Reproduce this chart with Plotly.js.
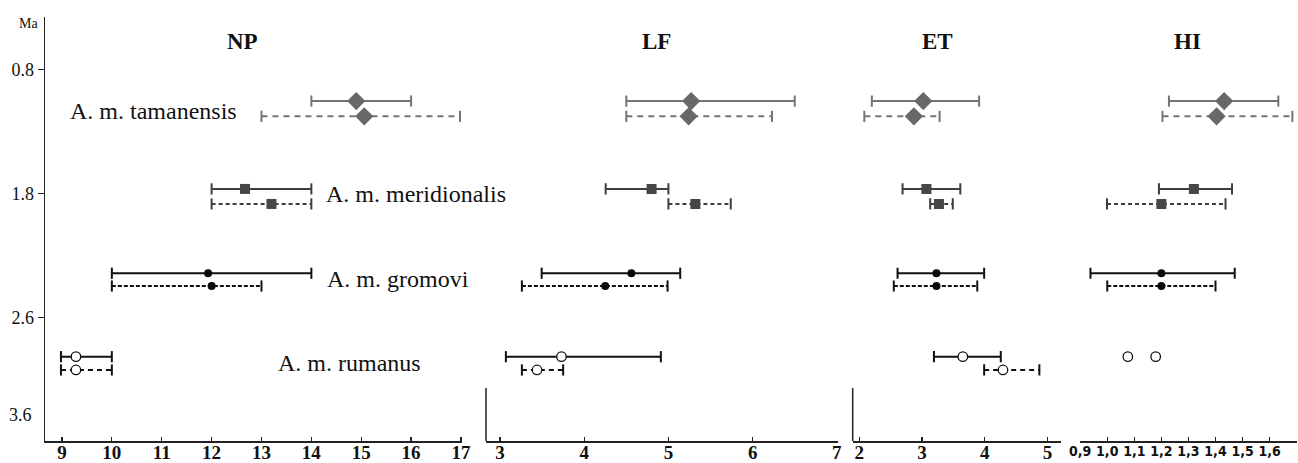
<!DOCTYPE html>
<html>
<head>
<meta charset="utf-8">
<script src="https://cdn.plot.ly/plotly-3.0.1.min.js"></script>
<style>html,body{margin:0;padding:0;background:#fff;}#chart{width:1298px;height:463px;}</style>
</head>
<body>
<div id="chart"></div>
<script>
// ---------- data ----------
const species = ['A. m. tamanensis', 'A. m. meridionalis', 'A. m. gromovi', 'A. m. rumanus'];
const panels = ['NP', 'LF', 'ET', 'HI'];
const maTickLabels = ['0.8', '1.8', '2.6', '3.6'];

// NP
const npSolidMean = [14.9, 12.67, 11.93, 9.28];
const npSolidLow  = [14.0, 12.0, 10.0, 8.98];
const npSolidHigh = [16.0, 14.0, 14.0, 10.0];
const npDashMean  = [15.06, 13.2, 12.0, 9.28];
const npDashLow   = [13.0, 12.0, 10.0, 8.98];
const npDashHigh  = [16.98, 14.0, 13.0, 10.0];
// LF
const lfSolidMean = [5.27, 4.80, 4.56, 3.73];
const lfSolidLow  = [4.50, 4.255, 3.495, 3.07];
const lfSolidHigh = [6.50, 5.00, 5.14, 4.91];
const lfDashMean  = [5.24, 5.32, 4.25, 3.44];
const lfDashLow   = [4.50, 5.00, 3.26, 3.26];
const lfDashHigh  = [6.23, 5.74, 4.99, 3.75];
// ET
const etSolidMean = [3.02, 3.07, 3.23, 3.65];
const etSolidLow  = [2.20, 2.69, 2.61, 3.19];
const etSolidHigh = [3.91, 3.61, 3.99, 4.255];
const etDashMean  = [2.87, 3.27, 3.23, 4.29];
const etDashLow   = [2.08, 3.13, 2.55, 3.99];
const etDashHigh  = [3.28, 3.49, 3.88, 4.87];
// HI (rumanus: means only)
const hiSolidMean = [1.432, 1.32, 1.20, 1.076];
const hiSolidLow  = [1.228, 1.191, 0.938, null];
const hiSolidHigh = [1.632, 1.461, 1.471, null];
const hiDashMean  = [1.404, 1.20, 1.20, 1.179];
const hiDashLow   = [1.204, 0.999, 1.0, null];
const hiDashHigh  = [1.684, 1.437, 1.40, null];

const npTickVals = [9, 10, 11, 12, 13, 14, 15, 16, 17];
const lfTickVals = [3, 4, 5, 6, 7];
const etTickVals = [2, 3, 4, 5];
const hiTickVals = [0.9, 1.0, 1.1, 1.2, 1.3, 1.4, 1.5, 1.6, 1.7];
const hiTickText = ['0,9', '1,0', '1,1', '1,2', '1,3', '1,4', '1,5', '1,6', ''];

// ---------- layout geometry (pixels) ----------
const WIDTH = 1298, HEIGHT = 463;
const ML = 45, MR = 1, MT = 17, MB = 22;
const PW = WIDTH - ML - MR, PH = HEIGHT - MT - MB;
const fx = px => (px - ML) / PW;
const fy = py => 1 - (py - MT) / PH;

const domainsPx = [[45, 462], [486, 837.7], [852.7, 1060.7], [1080.2, 1296.7]];
const ranges = [[8.66, 17.02], [2.834, 7.01], [1.895, 5.21], [0.9, 1.7]];

// row positions on the (index-based) vertical axis: 0.8 Ma tick = 0, 1.8 = 1, 2.6 = 2
const rowSolid = [0.256, 0.965, 1.645, 2.318];
const rowDash  = [0.379, 1.086, 1.748, 2.425];
const yRange = [2.998, -0.4218];
const ma36Pos = 2.788;

// ---------- styles ----------
const lineColor   = ['#747474', '#3e3e3e', '#111111', '#111111'];
const markColor   = ['#686868', '#474747', '#0a0a0a', '#ffffff'];
const markSymbol  = ['diamond', 'square', 'circle', 'circle'];
const markSize    = [14, 10, 8, 9.5];
const dashStyle   = ['6px,5px', '4px,3px', '4px,2px', '5px,4px'];

const panelData = [
  [npSolidMean, npSolidLow, npSolidHigh, npDashMean, npDashLow, npDashHigh],
  [lfSolidMean, lfSolidLow, lfSolidHigh, lfDashMean, lfDashLow, lfDashHigh],
  [etSolidMean, etSolidLow, etSolidHigh, etDashMean, etDashLow, etDashHigh],
  [hiSolidMean, hiSolidLow, hiSolidHigh, hiDashMean, hiDashLow, hiDashHigh]
];

const traces = [];
panelData.forEach((pd, p) => {
  const xa = p === 0 ? 'x' : 'x' + (p + 1);
  const [sm, sl, sh, dm, dl, dh] = pd;
  species.forEach((sp, i) => {
    const variants = [
      {mean: sm[i], lo: sl[i], hi: sh[i], y: rowSolid[i], dash: 'solid'},
      {mean: dm[i], lo: dl[i], hi: dh[i], y: (dl[i] === null ? rowSolid[i] : rowDash[i]), dash: dashStyle[i]}
    ];
    variants.forEach(v => {
      if (v.lo !== null && v.hi !== null) {
        traces.push({
          type: 'scatter', mode: 'lines+markers', xaxis: xa, yaxis: 'y',
          x: [v.lo, v.hi], y: [v.y, v.y], hoverinfo: 'skip', showlegend: false,
          line: {color: lineColor[i], width: 2, dash: v.dash},
          marker: {symbol: 'line-ns-open', size: 8, line: {color: lineColor[i], width: 2}}
        });
      }
      traces.push({
        type: 'scatter', mode: 'markers', xaxis: xa, yaxis: 'y',
        x: [v.mean], y: [v.y], name: sp, showlegend: false,
        marker: {symbol: markSymbol[i], size: markSize[i], color: markColor[i],
                 line: {color: i === 3 ? '#111' : markColor[i], width: i === 3 ? 1.3 : 0}}
      });
    });
  });
});

const serif = 'Liberation Serif, Times New Roman, serif';
const tickFontBold = {family: serif, size: 19, color: '#111', weight: 'bold'};
const layout = {
  width: WIDTH, height: HEIGHT,
  margin: {l: ML, r: MR, t: MT, b: MB, pad: 0},
  paper_bgcolor: '#fff', plot_bgcolor: 'rgba(0,0,0,0)',
  showlegend: false,
  yaxis: {
    range: yRange, anchor: 'x', domain: [0, 1],
    tickvals: [0, 1, 2], ticktext: maTickLabels.slice(0, 3),
    ticks: 'outside', ticklen: 6, tickwidth: 1.3, tickcolor: '#222',
    showline: true, linecolor: '#222', linewidth: 1.5,
    showgrid: false, zeroline: false,
    tickfont: {family: serif, size: 18, color: '#111'}
  },
  annotations: [],
  shapes: []
};

const tickValsList = [npTickVals, lfTickVals, etTickVals, hiTickVals];
domainsPx.forEach((d, p) => {
  const key = p === 0 ? 'xaxis' : 'xaxis' + (p + 1);
  const ax = {
    domain: [fx(d[0]), fx(d[1])], range: ranges[p], anchor: 'y',
    showline: true, linecolor: '#222', linewidth: 1.5,
    ticks: 'inside', ticklen: 4, tickwidth: 1.3, tickcolor: '#222',
    showgrid: false, zeroline: false, tickfont: tickFontBold,
    tickvals: tickValsList[p], ticklabelstandoff: -6
  };
  if (p === 3) {
    ax.ticktext = hiTickText;
    ax.tickfont = {family: 'Liberation Sans Narrow, DejaVu Sans Condensed, sans-serif', size: 14, color: '#111', weight: 'bold'};
    ax.ticklabelstandoff = -3;
  }
  layout[key] = ax;
});

// short vertical stubs at the left of the LF and ET panels
[domainsPx[1][0], domainsPx[2][0]].forEach(px => {
  layout.shapes.push({type: 'line', xref: 'paper', yref: 'paper',
    x0: fx(px), x1: fx(px), y0: fy(441), y1: fy(388),
    line: {color: '#222', width: 1.5}});
});

// panel titles
const titleX = [242.7, 656.7, 937.7, 1187.7];
panels.forEach((t, p) => {
  layout.annotations.push({text: '<b>' + t + '</b>', xref: 'paper', yref: 'paper',
    x: fx(titleX[p]), y: fy(41.7), xanchor: 'center', yanchor: 'middle', showarrow: false,
    font: {family: serif, size: 23, color: '#111'}});
});

// species labels
const labelPos = [[68, 111], [324, 194], [325, 279], [276, 363]];
species.forEach((s, i) => {
  layout.annotations.push({text: s, xref: 'paper', yref: 'paper',
    x: fx(labelPos[i][0]), y: fy(labelPos[i][1]), xanchor: 'left', yanchor: 'middle', showarrow: false,
    font: {family: serif, size: 24, color: '#111'}});
});

// "Ma" unit and the 3.6 label
layout.annotations.push({text: 'Ma', xref: 'paper', yref: 'paper', x: fx(28.5), y: fy(23),
  xanchor: 'center', yanchor: 'middle', showarrow: false,
  font: {family: serif, size: 14, color: '#111'}});
layout.annotations.push({text: maTickLabels[3], xref: 'paper', yref: 'y', x: fx(33.5), y: ma36Pos,
  xanchor: 'right', yanchor: 'middle', showarrow: false,
  font: {family: serif, size: 18, color: '#111'}});

Plotly.newPlot('chart', traces, layout, {staticPlot: true, displayModeBar: false});
</script>
</body>
</html>
